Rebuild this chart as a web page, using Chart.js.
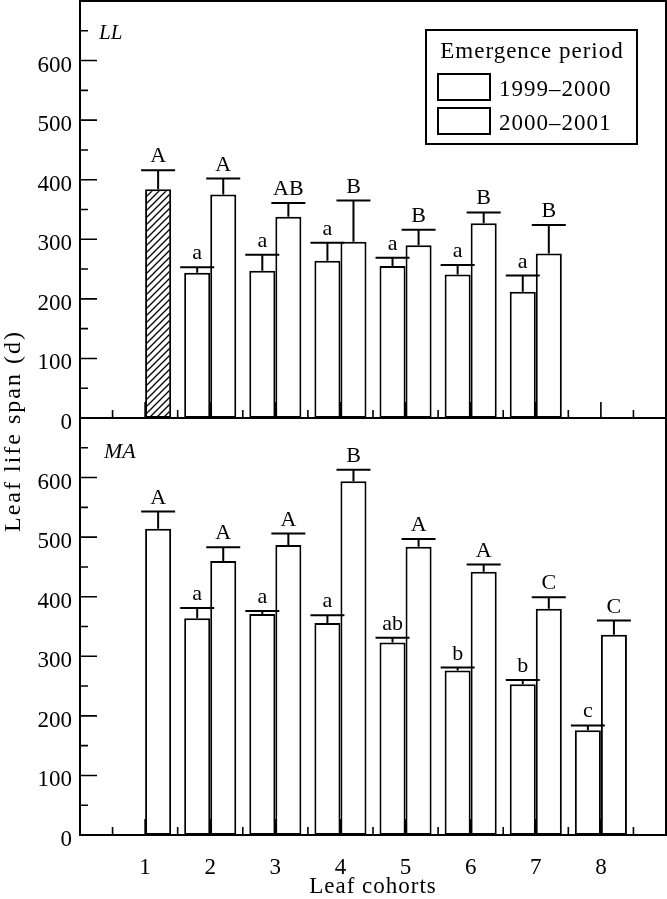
<!DOCTYPE html>
<html>
<head>
<meta charset="utf-8">
<script src="https://cdn.jsdelivr.net/npm/chart.js@4.4.1/dist/chart.umd.min.js"></script>
<style>
  html, body { margin: 0; padding: 0; background: #fff; }
  #wrap { width: 667px; height: 899px; position: relative; }
</style>
</head>
<body>
<div id="wrap"><canvas id="chart" width="667" height="899"></canvas></div>
<script>
// categories / ticks
const cohorts = [1, 2, 3, 4, 5, 6, 7, 8];
const cohortLabels = ['1', '2', '3', '4', '5', '6', '7', '8'];
const yTickValues = [0, 100, 200, 300, 400, 500, 600];
const seriesNames = ['1999–2000', '2000–2001'];
const legendTitle = 'Emergence period';
const panelNames = ['LL', 'MA'];

// LL panel
const ll1999 = [null, 244, 247, 264, 255, 241, 212, null];
const ll1999Err = [null, 9, 27, 30, 14, 16, 27, null];
const ll1999Letters = [null, 'a', 'a', 'a', 'a', 'a', 'a', null];
const ll2000 = [384, 375, 338, 296, 290, 327, 276, null];
const ll2000Err = [32, 27, 23, 69, 26, 18, 48, null];
const ll2000Letters = ['A', 'A', 'AB', 'B', 'B', 'B', 'B', null];

// MA panel
const ma1999 = [null, 364, 371, 356, 323, 276, 253, 176];
const ma1999Err = [null, 17, 5, 13, 8, 5, 7, 8];
const ma1999Letters = [null, 'a', 'a', 'a', 'ab', 'b', 'b', 'c'];
const ma2000 = [514, 460, 487, 594, 484, 442, 380, 336];
const ma2000Err = [29, 23, 19, 19, 13, 12, 19, 24];
const ma2000Letters = ['A', 'A', 'A', 'B', 'A', 'A', 'C', 'C'];

const FONT = "'Liberation Serif', 'Times New Roman', serif";

const canvas = document.getElementById('chart');
const ctx = canvas.getContext('2d');

// hatch fill for the first LL bar
function makeHatch() {
  const c = document.createElement('canvas');
  c.width = 7; c.height = 7;
  const g = c.getContext('2d');
  g.fillStyle = '#fff';
  g.fillRect(0, 0, 7, 7);
  g.strokeStyle = '#000';
  g.lineWidth = 1.3;
  g.beginPath();
  g.moveTo(0, 7); g.lineTo(7, 0);
  g.moveTo(-1, 1); g.lineTo(1, -1);
  g.moveTo(6, 8); g.lineTo(8, 6);
  g.stroke();
  return ctx.createPattern(c, 'repeat');
}
const hatch = makeHatch();

const pts = vals => vals.map((v, i) => ({ x: cohorts[i], y: v }));

const barBase = {
  borderColor: '#000',
  borderWidth: 2,
  borderSkipped: false,
  categoryPercentage: 0.8,
  barPercentage: 1.0,
  backgroundColor: '#fff'
};

const yAxis = {
  type: 'linear',
  position: 'left',
  stack: 'panels',
  stackWeight: 1,
  min: 0,
  max: 700,
  grid: { display: false, drawTicks: false },
  border: { display: false },
  ticks: { color: '#000', font: { family: FONT, size: 23 }, padding: 8, labelOffset: 5 },
  afterBuildTicks: s => { s.ticks = yTickValues.map(v => ({ value: v })); },
  afterFit: s => { s.width = 80; s.paddingTop = 0; s.paddingBottom = 0; }
};

const decorPlugin = {
  id: 'decor',
  beforeDatasetsDraw(chart) {
    const c = chart.ctx, a = chart.chartArea, x = chart.scales.x;
    c.save();
    c.strokeStyle = '#000';
    c.lineWidth = 1.6;
    ['yTop', 'yBot'].forEach(id => {
      const s = chart.scales[id];
      c.beginPath();
      yTickValues.forEach(v => {
        const p = s.getPixelForValue(v);
        c.moveTo(a.left, p); c.lineTo(a.left + 17, p);
        const m = s.getPixelForValue(v + 50);
        c.moveTo(a.left, m); c.lineTo(a.left + 8, m);
      });
      const b = s.bottom;
      for (let u = 0.5; u < 9; u += 0.5) {
        const px = x.getPixelForValue(u);
        const len = Number.isInteger(u) ? 16 : 8;
        c.moveTo(px, b); c.lineTo(px, b - len);
      }
      c.stroke();
    });
    c.restore();
  },
  afterDatasetsDraw(chart) {
    const c = chart.ctx, a = chart.chartArea;
    c.save();
    // error bars and letters
    chart.data.datasets.forEach((ds, di) => {
      const meta = chart.getDatasetMeta(di);
      const s = chart.scales[ds.yAxisID];
      meta.data.forEach((bar, j) => {
        const v = ds.data[j].y;
        if (v == null) return;
        const top = s.getPixelForValue(v + ds.err[j]);
        c.strokeStyle = '#000';
        c.lineWidth = 2;
        c.beginPath();
        c.moveTo(bar.x, bar.y); c.lineTo(bar.x, top);
        c.moveTo(bar.x - 17, top); c.lineTo(bar.x + 17, top);
        c.stroke();
        c.fillStyle = '#000';
        c.font = '22px ' + FONT;
        c.textAlign = 'center';
        c.textBaseline = 'alphabetic';
        c.fillText(ds.letters[j], bar.x, top - 8);
      });
    });
    // frame
    c.strokeStyle = '#000';
    c.lineWidth = 2;
    c.strokeRect(a.left, a.top, a.right - a.left, a.bottom - a.top);
    c.beginPath();
    c.moveTo(a.left, chart.scales.yTop.bottom);
    c.lineTo(a.right, chart.scales.yTop.bottom);
    c.stroke();
    // panel names
    c.fillStyle = '#000';
    c.textAlign = 'left';
    c.font = 'italic 21px ' + FONT;
    c.fillText(panelNames[0], 99, 39);
    c.font = 'italic 22px ' + FONT;
    c.fillText(panelNames[1], 104, 458);
    // legend
    c.lineWidth = 2;
    c.strokeRect(426, 30, 211, 114);
    c.font = '23px ' + FONT;
    c.letterSpacing = '1px';
    c.textAlign = 'center';
    c.fillText(legendTitle, 532, 58);
    c.textAlign = 'left';
    [74, 108].forEach((yy, i) => {
      c.fillStyle = '#fff';
      c.fillRect(438, yy, 52, 26);
      c.strokeRect(438, yy, 52, 26);
      c.fillStyle = '#000';
      c.fillText(seriesNames[i], 499, yy + 22);
    });
    // axis titles
    c.textAlign = 'center';
    c.fillText('Leaf cohorts', (a.left + a.right) / 2, 893);
    c.translate(20, 431);
    c.rotate(-Math.PI / 2);
    c.font = '24px ' + FONT;
    c.letterSpacing = '2px';
    c.fillText('Leaf life span (d)', 0, 0);
    c.restore();
  }
};

new Chart(canvas, {
  type: 'bar',
  data: {
    datasets: [
      { ...barBase, label: seriesNames[0], data: pts(ll1999), yAxisID: 'yTop', stack: 's1', err: ll1999Err, letters: ll1999Letters },
      { ...barBase, label: seriesNames[1], data: pts(ll2000), yAxisID: 'yTop', stack: 's2', err: ll2000Err, letters: ll2000Letters,
        backgroundColor: c => (c.dataIndex === 0 ? hatch : '#fff') },
      { ...barBase, label: seriesNames[0], data: pts(ma1999), yAxisID: 'yBot', stack: 's1', err: ma1999Err, letters: ma1999Letters },
      { ...barBase, label: seriesNames[1], data: pts(ma2000), yAxisID: 'yBot', stack: 's2', err: ma2000Err, letters: ma2000Letters }
    ]
  },
  options: {
    responsive: false,
    animation: false,
    layout: { padding: { left: 0, top: 1, right: 1, bottom: 0 } },
    plugins: { legend: { display: false }, tooltip: { enabled: false } },
    scales: {
      x: {
        type: 'linear',
        position: 'bottom',
        min: 0,
        max: 9,
        offset: false,
        grid: { display: false, drawTicks: false, offset: false },
        border: { display: false },
        ticks: {
          color: '#000',
          font: { family: FONT, size: 23 },
          padding: 19,
          maxRotation: 0,
          autoSkip: false,
          callback: (v, i) => cohortLabels[i]
        },
        afterBuildTicks: s => { s.ticks = cohorts.map(v => ({ value: v })); },
        afterFit: s => { s.height = 64; s.paddingLeft = 0; s.paddingRight = 0; }
      },
      yTop: { ...yAxis, weight: 2 },
      yBot: { ...yAxis, weight: 1 }
    }
  },
  plugins: [decorPlugin]
});
</script>
</body>
</html>
